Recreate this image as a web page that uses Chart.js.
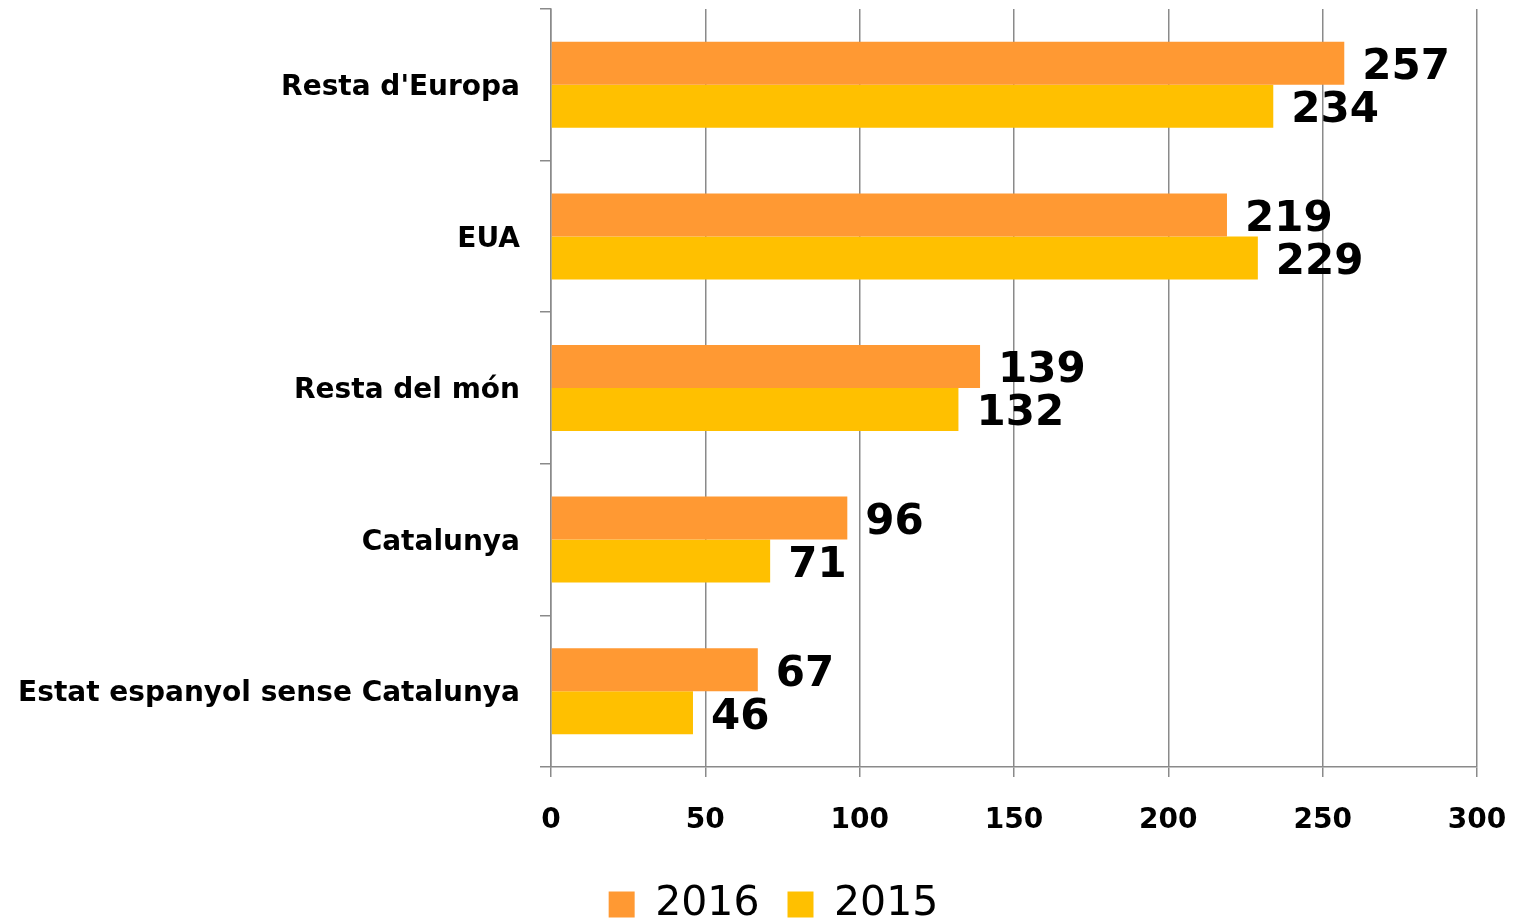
<!DOCTYPE html>
<html>
<head>
<meta charset="utf-8">
<script src="https://cdn.jsdelivr.net/npm/chart.js@4/dist/chart.umd.min.js"></script>
<style>
  html, body { margin: 0; padding: 0; background: #fff; }
  #wrap { width: 1513px; height: 922px; }
</style>
</head>
<body>
<div id="wrap"><canvas id="chart" width="1513" height="922"></canvas></div>
<script>
const categories = ["Resta d'Europa", 'EUA', 'Resta del món', 'Catalunya', 'Estat espanyol sense Catalunya']
const values2016 = [257, 219, 139, 96, 67]
const values2015 = [234, 229, 132, 71, 46]
const xTicks = [0, 50, 100, 150, 200, 250, 300]

const FONT = "'DejaVu Sans', Verdana, sans-serif"
const GRID = '#8a8a8a'

// numbers printed right of each bar
const barLabels = {
    id: 'barLabels',
    afterDatasetsDraw: (chart) => {
        const ctx = chart.ctx
        ctx.save()
        ctx.font = `bold 42px ${FONT}`
        ctx.fillStyle = '#000'
        ctx.textAlign = 'left'
        ctx.textBaseline = 'middle'
        chart.data.datasets.forEach((ds, i) => {
            chart.getDatasetMeta(i).data.forEach((bar, j) => {
                ctx.fillText(String(ds.data[j]), bar.x + 18, bar.y + 5)
            })
        })
        ctx.restore()
    }
}

// move the legend a bit down and right, like the original
const legendNudge = {
    id: 'legendNudge',
    afterLayout: (chart) => {
        const lg = chart.legend
        lg.top += 13
        lg.bottom += 13
        lg.left += 35
        lg.right += 35
    }
}

// scales should not reserve room for half-labels at their ends
const noScalePad = (scale) => {
    scale.paddingTop = 0
    scale.paddingBottom = 0
    scale.paddingLeft = 0
    scale.paddingRight = 0
}

new Chart(document.getElementById('chart'), {
    type: 'bar',
    data: {
        labels: categories,
        datasets: [
            { label: '2016', data: values2016, backgroundColor: '#FF9933', categoryPercentage: 0.567, barPercentage: 1 },
            { label: '2015', data: values2015, backgroundColor: '#FFC000', categoryPercentage: 0.567, barPercentage: 1 }
        ]
    },
    options: {
        indexAxis: 'y',
        responsive: false,
        animation: false,
        layout: { padding: { top: 9, right: 36, left: 0, bottom: 0 } },
        plugins: {
            tooltip: { enabled: false },
            legend: {
                position: 'bottom',
                labels: {
                    boxWidth: 26,
                    boxHeight: 26,
                    padding: 28,
                    color: '#000',
                    font: { family: FONT, size: 41 }
                }
            }
        },
        scales: {
            x: {
                min: 0,
                max: 300,
                afterBuildTicks: (scale) => { scale.ticks = xTicks.map(v => ({ value: v })) },
                afterFit: (scale) => { scale.height = 76; noScalePad(scale) },
                grid: { color: GRID, lineWidth: 1.5, tickLength: 10 },
                border: { color: GRID, width: 1.5 },
                ticks: { color: '#000', padding: 27, font: { family: FONT, size: 28, weight: 'bold' } }
            },
            y: {
                afterFit: (scale) => { scale.width = 551; noScalePad(scale) },
                grid: { offset: true, drawOnChartArea: false, color: GRID, lineWidth: 1.5, tickLength: 11 },
                border: { color: GRID, width: 1.5 },
                ticks: { color: '#000', padding: 20, labelOffset: 3, font: { family: FONT, size: 28, weight: 'bold' } }
            }
        }
    },
    plugins: [barLabels, legendNudge]
})
</script>
</body>
</html>
